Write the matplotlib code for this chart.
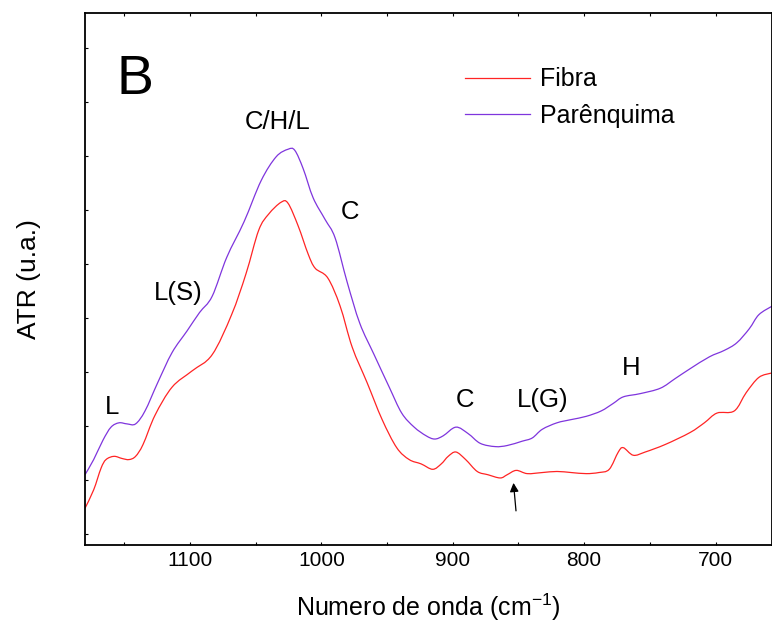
import numpy as np
import matplotlib
matplotlib.use('Agg')
import matplotlib.pyplot as plt
from matplotlib.path import Path
from matplotlib.patches import PathPatch
from matplotlib.lines import Line2D
from matplotlib.ticker import MultipleLocator, NullFormatter

# Fibra (vermelho)
wn_fibra = [1180, 1173.4, 1167.8, 1164, 1157.9, 1151.8, 1146.5, 1141.5, 1135.8, 1126.7,
            1113.7, 1098.5, 1083.2, 1068.4, 1057.4, 1047.8, 1040.2, 1030.7, 1025.4, 1017.7,
            1010.1, 1004.8, 995.2, 985.8, 976.6, 965.2, 953.8, 942.7, 933.2, 924.1,
            915.3, 908.8, 903.5, 897.6, 890.2, 881.4, 873.3, 863.9, 858.6, 851.7,
            843.3, 831.9, 820.7, 809.8, 798.4, 788.9, 780.9, 774.0, 770.2, 762.6,
            753.5, 738.2, 719.4, 708.5, 698.9, 685.7, 676.6, 667.0, 657.5]
atr_fibra = [-0.26, -0.09, 0.11, 0.19, 0.22, 0.20, 0.19, 0.22, 0.33, 0.60,
             0.86, 1.01, 1.16, 1.53, 1.91, 2.31, 2.46, 2.57, 2.56, 2.35,
             2.09, 1.96, 1.87, 1.61, 1.23, 0.90, 0.56, 0.30, 0.19, 0.15,
             0.10, 0.15, 0.22, 0.26, 0.19, 0.08, 0.05, 0.02, 0.05, 0.09,
             0.06, 0.07, 0.08, 0.07, 0.06, 0.07, 0.10, 0.26, 0.30, 0.23,
             0.26, 0.33, 0.44, 0.53, 0.62, 0.64, 0.81, 0.95, 0.99]

# Parenquima (roxo)
wn_par = [1180, 1173.4, 1166.3, 1160.2, 1154.1, 1148.0, 1141.5, 1134.3, 1124.7, 1113.7,
          1102.3, 1092.8, 1083.2, 1072.1, 1058.9, 1045.9, 1034.5, 1025.4, 1020.3, 1013.9,
          1006.3, 997.2, 989.6, 980.4, 970.8, 959.9, 948.4, 938.9, 929.4, 920.3,
          913.8, 907.3, 897.6, 888.3, 879.1, 867.7, 858.6, 847.2, 839.5, 831.9,
          820.7, 809.8, 798.4, 787.0, 777.8, 770.2, 757.3, 742.0, 730.6, 719.4,
          704.7, 693.3, 683.8, 674.3, 667.0, 656.8]
atr_par = [0.05, 0.19, 0.37, 0.49, 0.53, 0.52, 0.52, 0.64, 0.90, 1.18,
           1.38, 1.55, 1.70, 2.06, 2.39, 2.77, 2.99, 3.06, 3.05, 2.88,
           2.61, 2.41, 2.24, 1.83, 1.45, 1.16, 0.86, 0.62, 0.49, 0.41,
           0.38, 0.41, 0.49, 0.43, 0.34, 0.31, 0.32, 0.36, 0.39, 0.47,
           0.53, 0.56, 0.59, 0.64, 0.71, 0.77, 0.80, 0.85, 0.94, 1.03,
           1.14, 1.20, 1.27, 1.40, 1.53, 1.61]

# rotulos das bandas
band_labels = ['L', 'L(S)', 'C/H/L', 'C', 'C', 'L(G)', 'H']
band_x = [1159.4, 1109.1, 1033, 978.1, 890.6, 831.2, 764.2]
band_y = [0.68, 1.73, 3.31, 2.48, 0.74, 0.74, 1.04]

cor_fibra = '#ff2424'
cor_par = '#7f35dd'


def curva_suave(x, y):
    # linha tipo spline (Bezier passando pelos pontos lidos)
    p = np.column_stack([x, y]).astype(float)
    verts = [p[0]]
    codes = [Path.MOVETO]
    n = len(p)
    for i in range(n - 1):
        p0 = p[i - 1] if i > 0 else p[i]
        p3 = p[i + 2] if i + 2 < n else p[i + 1]
        c1 = p[i] + (p[i + 1] - p0) / 6.0
        c2 = p[i + 1] - (p3 - p[i]) / 6.0
        verts += [c1, c2, p[i + 1]]
        codes += [Path.CURVE4] * 3
    return Path(verts, codes)


plt.rcParams['font.family'] = ['Liberation Sans', 'DejaVu Sans']

fig = plt.figure(figsize=(7.72, 6.33), dpi=100)
ax = fig.add_axes([85/772, 1 - 545/633, 1 - 85/772, (545 - 13)/633])

ax.add_patch(PathPatch(curva_suave(wn_fibra, atr_fibra), fill=False,
                       edgecolor=cor_fibra, lw=0.9))
ax.add_patch(PathPatch(curva_suave(wn_par, atr_par), fill=False,
                       edgecolor=cor_par, lw=0.9))

ax.set_xlim(1180, 657)
ax.set_ylim(-0.6, 4.32)

ax.xaxis.set_major_locator(MultipleLocator(100))
ax.xaxis.set_minor_locator(MultipleLocator(50))
ax.yaxis.set_major_locator(MultipleLocator(1))
ax.yaxis.set_minor_locator(MultipleLocator(0.5))
ax.yaxis.set_major_formatter(NullFormatter())

ax.tick_params(axis='x', which='major', direction='out', length=8.5, width=1.1,
               labelsize=15, pad=4)
ax.tick_params(axis='x', which='minor', direction='out', length=5, width=1.1)
ax.tick_params(axis='y', which='major', direction='out', length=8, width=1.1)
ax.tick_params(axis='y', which='minor', direction='out', length=4, width=1.1)
ax.tick_params(top=True, which='both', direction='in', length=2, width=0.8)

for s in ax.spines.values():
    s.set_linewidth(1.3)

ax.set_xlabel('Numero de onda (cm$^{\\mathregular{-1}}$)', fontsize=18, labelpad=16)
ax.set_ylabel('ATR (u.a.)', fontsize=19, labelpad=28)

ax.text(1141.9, 3.70, 'B', fontsize=40, ha='center', va='center')
for t, x, y in zip(band_labels, band_x, band_y):
    ax.text(x, y, t, fontsize=18.5, ha='center', va='center')

ax.annotate('', xy=(854.0, 0.0), xytext=(851.7, -0.31),
            arrowprops=dict(arrowstyle='-|>', color='black', lw=0.9,
                            mutation_scale=13))

handles = [Line2D([], [], color=cor_fibra, lw=0.9),
           Line2D([], [], color=cor_par, lw=0.9)]
ax.legend(handles, ['Fibra', 'Parênquima'], loc='upper left',
          bbox_to_anchor=(0.52, 0.94), frameon=False, fontsize=18,
          handlelength=2.6, handletextpad=0.4, labelspacing=0.5)

fig.savefig('out.png', dpi=100)
